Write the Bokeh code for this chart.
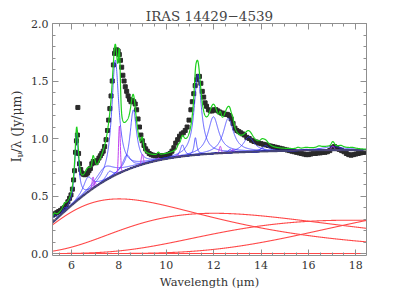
import numpy as np
from bokeh.plotting import figure
from bokeh.layouts import row
from bokeh.models import (Range1d, LinearAxis, SingleIntervalTicker,
                          CustomJSTickFormatter)
from bokeh.embed import file_html
from bokeh.resources import INLINE
from bokeh.core.properties import value

TITLE = "IRAS 14429\u22124539"
X_LABEL = "Wavelength (\u03bcm)"
Y_LABEL_PARTS = ["I", "\u03bd", "/\u03bb (Jy/\u03bcm)"]

wave = [5.22, 5.30, 5.38, 5.46, 5.54, 5.62, 5.70, 5.78, 5.85, 5.92, 5.98, 6.04,
        6.09, 6.13, 6.17, 6.21, 6.25, 6.27, 6.30, 6.34, 6.39, 6.44, 6.50, 6.56,
        6.62, 6.68, 6.74, 6.80, 6.86, 6.92, 6.98, 7.04, 7.10, 7.16, 7.22, 7.28,
        7.34, 7.40, 7.46, 7.52, 7.57, 7.62, 7.67, 7.72, 7.77, 7.82, 7.87, 7.92,
        7.97, 8.02, 8.07, 8.12, 8.17, 8.22, 8.27, 8.33, 8.39, 8.45, 8.51, 8.57,
        8.63, 8.69, 8.75, 8.81, 8.87, 8.93, 8.99, 9.06, 9.13, 9.20, 9.28, 9.36,
        9.44, 9.52, 9.60, 9.68, 9.76, 9.84, 9.92, 10.00, 10.08, 10.16, 10.24, 10.32,
        10.40, 10.48, 10.56, 10.64, 10.72, 10.80, 10.88, 10.96, 11.04, 11.10, 11.16, 11.22,
        11.28, 11.34, 11.40, 11.46, 11.52, 11.58, 11.64, 11.70, 11.78, 11.86, 11.94, 12.02,
        12.10, 12.18, 12.26, 12.34, 12.42, 12.50, 12.58, 12.66, 12.74, 12.82, 12.90, 12.98,
        13.06, 13.14, 13.22, 13.30, 13.40, 13.50, 13.60, 13.70, 13.80, 13.90, 14.00, 14.10,
        14.20, 14.30, 14.40, 14.50, 14.60, 14.70, 14.80, 14.90, 15.00, 15.10, 15.20, 15.30,
        15.40, 15.50, 15.60, 15.70, 15.80, 15.90, 16.00, 16.10, 16.20, 16.30, 16.40, 16.50,
        16.60, 16.70, 16.80, 16.90, 17.00, 17.10, 17.20, 17.30, 17.40, 17.50, 17.60, 17.70,
        17.80, 17.90, 18.00, 18.10, 18.20, 18.30, 18.40]
flux = [0.335, 0.345, 0.355, 0.365, 0.375, 0.39, 0.40, 0.425, 0.45, 0.48, 0.51, 0.56,
        0.64, 0.72, 0.88, 0.98, 1.03, 1.27, 0.87, 0.78, 0.73, 0.70, 0.69, 0.685,
        0.69, 0.70, 0.72, 0.74, 0.78, 0.80, 0.79, 0.79, 0.81, 0.83, 0.85, 0.87,
        0.89, 0.93, 0.99, 1.07, 1.16, 1.26, 1.37, 1.50, 1.64, 1.74, 1.77, 1.77,
        1.76, 1.73, 1.68, 1.62, 1.55, 1.50, 1.45, 1.41, 1.37, 1.34, 1.32, 1.33,
        1.32, 1.30, 1.25, 1.17, 1.10, 1.03, 0.98, 0.94, 0.91, 0.89, 0.87, 0.86,
        0.855, 0.85, 0.85, 0.85, 0.85, 0.85, 0.85, 0.855, 0.86, 0.87, 0.89, 0.92,
        0.96, 0.99, 1.02, 1.04, 1.05, 1.07, 1.10, 1.16, 1.25, 1.32, 1.39, 1.46,
        1.51, 1.54, 1.54, 1.48, 1.41, 1.36, 1.31, 1.28, 1.25, 1.24, 1.24, 1.25,
        1.25, 1.24, 1.23, 1.22, 1.22, 1.21, 1.21, 1.20, 1.17, 1.13, 1.09, 1.07,
        1.06, 1.05, 1.04, 1.03, 1.01, 1.00, 0.985, 0.975, 0.97, 0.96, 0.955, 0.95,
        0.945, 0.94, 0.935, 0.93, 0.925, 0.92, 0.915, 0.91, 0.905, 0.90, 0.895, 0.89,
        0.885, 0.88, 0.875, 0.87, 0.865, 0.86, 0.86, 0.865, 0.87, 0.87, 0.875, 0.875,
        0.88, 0.88, 0.885, 0.895, 0.92, 0.93, 0.915, 0.905, 0.895, 0.885, 0.87, 0.86,
        0.855, 0.86, 0.865, 0.87, 0.875, 0.88, 0.88]
err = [0.01] * 14 + [0.03, 0.04, 0.04, 0.01, 0.04, 0.03] + [0.01] * (len(wave) - 20)

# continuum components: temperature (K) and peak of I_nu/lambda (Jy/um)
bb_temp = [300, 200, 135, 90, 65, 50, 40, 35]
bb_peak = [0.475, 0.35, 0.29, 0.457, 0.0, 0.0, 0.0, 0.0]

# dust features (Drude): centre (um), fractional FWHM, peak (Jy/um)
pah_center = [5.27, 5.70, 6.22, 6.69, 7.42, 7.60, 7.85, 8.33, 8.61, 10.68, 11.23, 11.33,
              11.99, 12.62, 12.69, 13.48, 14.04, 14.19, 15.90, 16.45, 17.04, 17.375, 17.87]
pah_gamma = [0.034, 0.035, 0.030, 0.070, 0.126, 0.044, 0.046, 0.050, 0.039, 0.020, 0.012, 0.032,
             0.045, 0.042, 0.013, 0.040, 0.016, 0.025, 0.020, 0.014, 0.065, 0.012, 0.016]
pah_peak = [0.05, 0.035, 0.59, 0.13, 0.12, 0.06, 1.00, 0.13, 0.50, 0.10, 0.15, 0.70,
            0.32, 0.30, 0.03, 0.13, 0.03, 0.05, 0.01, 0.015, 0.03, 0.012, 0.008]

# gas lines (Gaussian): centre (um), FWHM (um), peak (Jy/um)
line_center = [6.91, 6.985, 8.025, 8.99, 9.665, 10.51, 12.28, 12.81, 15.56, 17.03]
line_fwhm = [0.09, 0.09, 0.09, 0.10, 0.10, 0.10, 0.10, 0.10, 0.14, 0.14]
line_peak = [0.10, 0.05, 0.41, 0.09, 0.02, 0.02, 0.06, 0.03, 0.01, 0.035]

X_RANGE = (5.2, 18.45)
Y_RANGE = (-0.017, 2.0)


def bb_shape(lam, T):
    x = 14387.77 / (lam * T)
    xm = 5.98490
    return (x ** 6 / np.expm1(x)) / (xm ** 6 / np.expm1(xm))


def drude(lam, c, g, b):
    return b * g ** 2 / ((lam / c - c / lam) ** 2 + g ** 2)


def gauss(lam, c, fwhm, a):
    return a * np.exp(-4.0 * np.log(2.0) * (lam - c) ** 2 / fwhm ** 2)


lam = np.linspace(X_RANGE[0], X_RANGE[1], 2400)
bbs = [pk * bb_shape(lam, T) for T, pk in zip(bb_temp, bb_peak)]
cont = np.sum(bbs, axis=0)
pahs = [drude(lam, c, g, b) for c, g, b in zip(pah_center, pah_gamma, pah_peak)]
lines = [gauss(lam, c, w, a) for c, w, a in zip(line_center, line_fwhm, line_peak)]
total = cont + np.sum(pahs, axis=0) + np.sum(lines, axis=0)

FONT = "DejaVu Serif"
AX_COL = "#8f8f8f"
TXT_COL = "#333333"
H = 291
LW = 24  # width of the y-label strip

p = figure(width=407 - LW, height=H, x_range=Range1d(*X_RANGE), y_range=Range1d(*Y_RANGE),
           output_backend="svg", toolbar_location=None,
           min_border_left=28, min_border_right=41, min_border_top=23, min_border_bottom=35)
p.xgrid.visible = False
p.ygrid.visible = False
p.outline_line_color = None

p.title.text = TITLE
p.title.align = "center"
p.title.text_font = FONT
p.title.text_font_size = "13.5px"
p.title.text_font_style = "normal"
p.title.text_color = "#444444"
p.title.standoff = 0
p.title.offset = 0

xt = SingleIntervalTicker(interval=2, num_minor_ticks=4)
yt = SingleIntervalTicker(interval=0.5, num_minor_ticks=5)


def style(ax, labels=True):
    ax.axis_line_color = AX_COL
    ax.major_tick_line_color = AX_COL
    ax.minor_tick_line_color = AX_COL
    ax.major_tick_in = 6
    ax.major_tick_out = 0
    ax.minor_tick_in = 3
    ax.minor_tick_out = 0
    ax.major_label_text_font = FONT
    ax.major_label_text_color = TXT_COL
    if labels:
        ax.major_label_text_font_size = "11px"
        ax.major_label_standoff = 5
    else:
        ax.major_label_text_font_size = "1px"
        ax.formatter = CustomJSTickFormatter(code="return ''")
        ax.major_label_standoff = 0


p.xaxis.ticker = xt
p.yaxis.ticker = yt
p.yaxis.formatter = CustomJSTickFormatter(code="return tick.toFixed(1)")
style(p.xaxis[0])
style(p.yaxis[0])
p.yaxis.major_label_standoff = 4
p.xaxis.axis_label = X_LABEL
p.xaxis.axis_label_text_font = FONT
p.xaxis.axis_label_text_font_size = "11.5px"
p.xaxis.axis_label_text_font_style = "normal"
p.xaxis.axis_label_text_color = TXT_COL
p.xaxis.axis_label_standoff = 3
top = LinearAxis(ticker=xt)
right = LinearAxis(ticker=yt)
style(top, labels=False)
style(right, labels=False)
p.add_layout(top, "above")
p.add_layout(right, "right")

# data
fl = np.array(flux)
er = np.array(err)
p.segment(x0=wave, y0=fl - er, x1=wave, y1=fl + er, line_color="#222222", line_width=1)
p.scatter(wave, flux, marker="square", size=4, fill_color="#2a2a2a", line_color="#2a2a2a")

# continuum components
for bb in bbs:
    p.line(lam, bb, line_color="#ff4848", line_width=1.1)

# features
for d in pahs:
    p.line(lam, cont + d, line_color="#3a3aff", line_width=0.9, line_alpha=0.9)
for c, w, g in zip(line_center, line_fwhm, lines):
    yv = cont + g
    yv = np.where(np.abs(lam - c) < 2.5 * w, yv, np.nan)
    p.line(lam, yv, line_color="#c040f0", line_width=1)

# total continuum drawn over the feature bases
p.line(lam, cont, line_color="#4a4a62", line_width=2.2, line_alpha=0.85)

p.line(lam, total, line_color="#1ed01e", line_width=1.2)

# y-axis label strip (pixel coordinates)
q = figure(width=LW, height=H, x_range=Range1d(0, LW), y_range=Range1d(0, H),
           output_backend="svg", toolbar_location=None, min_border=0)
q.axis.visible = False
q.grid.visible = False
q.outline_line_color = None
ylab_x = 16
ylab_y0 = H - 174
ang = np.pi / 2
q.text(x=[ylab_x], y=[ylab_y0], text=[Y_LABEL_PARTS[0]], angle=ang,
       text_font=value(FONT), text_font_size="12.5px", text_color=TXT_COL,
       text_align="left", text_baseline="middle")
q.text(x=[ylab_x + 3.5], y=[ylab_y0 + 6.0], text=[Y_LABEL_PARTS[1]], angle=ang,
       text_font=value(FONT), text_font_size="9px", text_color=TXT_COL,
       text_align="left", text_baseline="middle")
q.text(x=[ylab_x], y=[ylab_y0 + 11.8], text=[Y_LABEL_PARTS[2]], angle=ang,
       text_font=value(FONT), text_font_size="12.5px", text_color=TXT_COL,
       text_align="left", text_baseline="middle")

layout = row(q, p, spacing=0)
open("out.html", "w").write(file_html(layout, INLINE))
